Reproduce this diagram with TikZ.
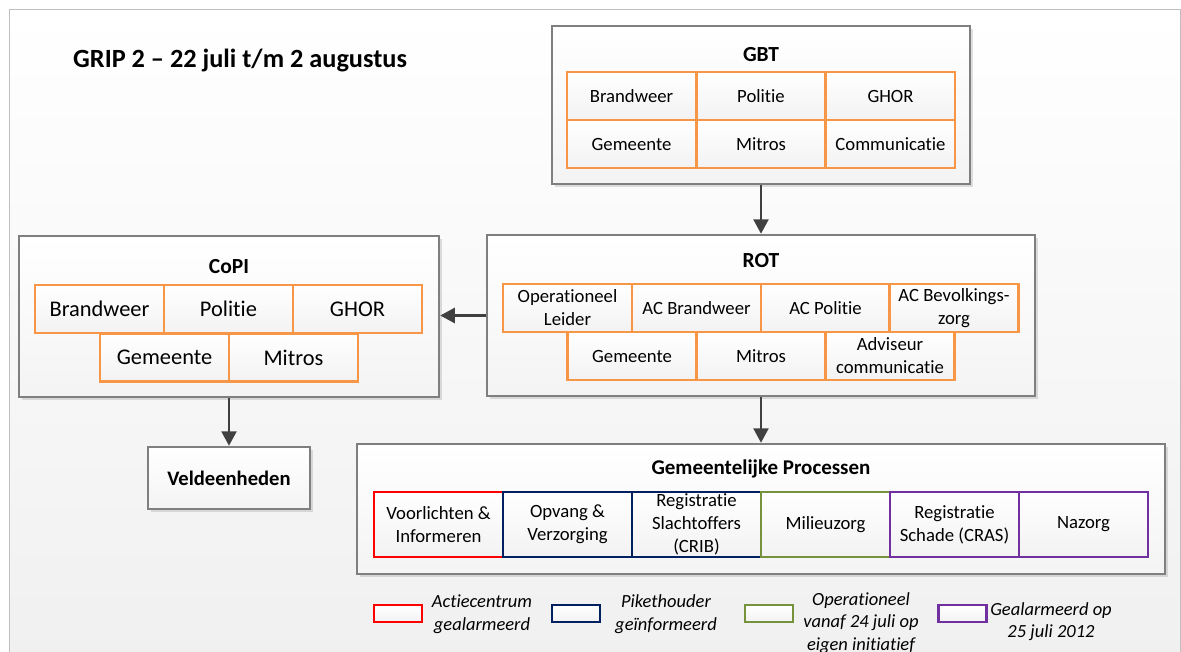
\documentclass[tikz,border=0pt]{standalone}
\usepackage{fontspec}
\setmainfont{Carlito}[Ligatures={NoCommon}]
\usetikzlibrary{arrows.meta,shadows}
\definecolor{boxgray}{HTML}{7F7F7F}
\definecolor{framegray}{HTML}{BFBFBF}
\definecolor{cellorange}{HTML}{F79646}
\definecolor{arrowgray}{HTML}{404040}
\definecolor{legred}{HTML}{FF0000}
\definecolor{legnavy}{HTML}{002060}
\definecolor{leggreen}{HTML}{76923C}
\definecolor{legpurple}{HTML}{7030A0}
\tikzset{
  bigbox/.style={draw=boxgray, line width=2.5, rectangle, inner sep=0,
    top color=white, bottom color=gray!9,
    drop shadow={shadow xshift=2.5pt, shadow yshift=-2.5pt, opacity=0.25, fill=gray}},
  boxtitle/.style={font=\fontsize{21.5}{26}\selectfont\bfseries, inner sep=0},
  cellbox/.style={draw=#1, line width=2.5, rectangle, inner sep=0, align=center,
    minimum width=129, minimum height=48, top color=white, bottom color=gray!10,
    font=\fontsize{18.7}{23}\selectfont},
  cellbox/.default=cellorange,
  legbox/.style={draw=#1, line width=2.5, rectangle, inner sep=0,
    minimum width=48, minimum height=17, top color=white, bottom color=gray!10},
  legtext/.style={font=\fontsize{18.5}{22.5}\selectfont\itshape, align=center, inner sep=0},
  arr/.style={draw=arrowgray, line width=2.5, -{Triangle[length=14.5pt,width=15pt]}}
}
\begin{document}
\begin{tikzpicture}[x=1pt,y=-1pt]
\useasboundingbox (0,0) rectangle (1181,651);
% outer frame
\draw[draw=framegray, line width=1, top color=white, bottom color=gray!12] (9,9) rectangle (1180,675);
% title
\node[anchor=west, inner sep=0, font=\fontsize{26.3}{30}\selectfont\bfseries] (title) at (73,60) {GRIP 2 – 22 juli t/m 2 augustus};

% GBT
\node[bigbox, minimum width=418, minimum height=158] (gbt) at (761,105) {};
\node[boxtitle] (gbtt) at (761,55) {GBT};
\node[cellbox] (g1) at (631.5,96) {Brandweer};
\node[cellbox] (g2) at (761,96) {Politie};
\node[cellbox] (g3) at (890.5,96) {GHOR};
\node[cellbox] (g4) at (631.5,144) {Gemeente};
\node[cellbox] (g5) at (761,144) {Mitros};
\node[cellbox] (g6) at (890.5,144) {Communicatie};

% ROT
\node[bigbox, minimum width=548, minimum height=161] (rot) at (761,315.5) {};
\node[boxtitle] (rott) at (761,261) {ROT};
\node[cellbox] (r1) at (567.5,308) {Operationeel\\Leider};
\node[cellbox] (r2) at (696.5,308) {AC Brandweer};
\node[cellbox] (r3) at (825.5,308) {AC Politie};
\node[cellbox] (r4) at (954,308) {AC Bevolkings-\\zorg};
\node[cellbox] (r5) at (632,356) {Gemeente};
\node[cellbox] (r6) at (761,356) {Mitros};
\node[cellbox] (r7) at (890,356) {Adviseur\\communicatie};

% CoPI
\node[bigbox, minimum width=420, minimum height=161] (copi) at (229,316.5) {};
\node[boxtitle] (copit) at (229,267) {CoPI};
\node[cellbox, font=\fontsize{22.4}{26}\selectfont] (c1) at (99.5,309) {Brandweer};
\node[cellbox, font=\fontsize{22.4}{26}\selectfont] (c2) at (228.5,309) {Politie};
\node[cellbox, font=\fontsize{22.4}{26}\selectfont] (c3) at (357.5,309) {GHOR};
\node[cellbox, font=\fontsize{22.4}{26}\selectfont] (c4) at (164.5,357.5) {Gemeente};
\node[cellbox, font=\fontsize{22.4}{26}\selectfont] (c5) at (293.5,357.5) {Mitros};

% Veldeenheden
\node[bigbox, minimum width=162, minimum height=62, font=\fontsize{20.6}{24}\selectfont\bfseries] (veld) at (229,478) {Veldeenheden};

% Gemeentelijke Processen
\node[bigbox, minimum width=808, minimum height=130] (gem) at (761,509) {};
\node[boxtitle, font=\fontsize{21}{25}\selectfont\bfseries] (gemt) at (761,469) {Gemeentelijke Processen};
\node[cellbox=legred, minimum height=65] (p1) at (438.5,524.5) {Voorlichten \&\\Informeren};
\node[cellbox=legnavy, minimum height=65] (p2) at (567.5,524.5) {Opvang \&\\Verzorging};
\node[cellbox=legnavy, minimum height=65] (p3) at (696.5,524.5) {Registratie\\Slachtoffers\\(CRIB)};
\node[cellbox=leggreen, minimum height=65] (p4) at (825.5,524.5) {Milieuzorg};
\node[cellbox=legpurple, minimum height=65] (p5) at (954.5,524.5) {Registratie\\Schade (CRAS)};
\node[cellbox=legpurple, minimum height=65] (p6) at (1083.5,524.5) {Nazorg};

% arrows
\draw[arr] (gbt.south) -- (rot.north);
\draw[arr] (rot.west) -- (copi.east |- rot.west);
\draw[arr] (copi.south) -- (veld.north);
\draw[arr] (rot.south) -- (gem.north);

% legend
\node[legbox=legred] (l1) at (398,613.5) {};
\node[legtext] (t1) at (482,614) {Actiecentrum\\gealarmeerd};
\node[legbox=legnavy] (l2) at (576,613.5) {};
\node[legtext] (t2) at (666,614) {Pikethouder\\geïnformeerd};
\node[legbox=leggreen] (l3) at (769,613.5) {};
\node[legtext] (t3) at (861,623) {Operationeel\\vanaf 24 juli op\\eigen initiatief};
\node[legbox=legpurple] (l4) at (962.5,613.5) {};
\node[legtext] (t4) at (1051,621.5) {Gealarmeerd op\\25 juli 2012};
\end{tikzpicture}
\end{document}
